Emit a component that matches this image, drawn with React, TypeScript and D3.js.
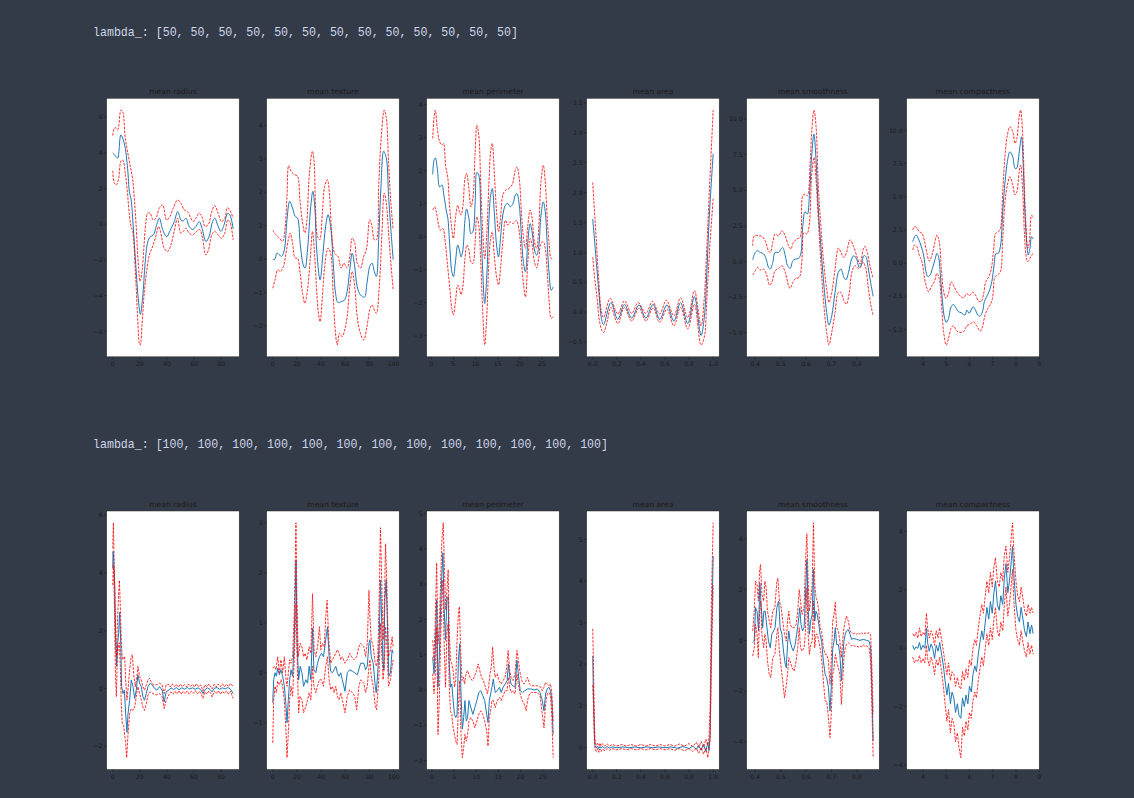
import React from "react";
import * as d3 from "d3";

type P = [number, number];

// ---------- header labels ----------
const header50 = "lambda_: [50, 50, 50, 50, 50, 50, 50, 50, 50, 50, 50, 50, 50]";
const header100 = "lambda_: [100, 100, 100, 100, 100, 100, 100, 100, 100, 100, 100, 100, 100]";
const featureTitles = ["mean radius", "mean texture", "mean perimeter", "mean area", "mean smoothness", "mean compactness"];

// ---------- tick values ----------
const xTicksRadius = [0, 20, 40, 60, 80];
const xTicksTexture = [0, 20, 40, 60, 80, 100];
const xTicksPerimeter = [0, 5, 10, 15, 20, 25];
const xTicksArea = [0, 0.2, 0.4, 0.6, 0.8, 1.0];
const xTicksSmooth = [0.4, 0.5, 0.6, 0.7, 0.8];
const xTicksCompact = [4, 5, 6, 7, 8, 9];

// ================= lambda 50 =================
const radius50Blue: P[] = [[0,3.98],[2.5,3.8],[3.7,3.7],[6,5.0],[8.6,4.5],[11,3.1],[12.3,1.8],[13.5,1.4],[15,0],[17,-2.3],[19,-4.3],[20.4,-5.05],[22,-4.15],[24,-2.1],[25.8,-1.0],[27.7,-0.7],[30,-0.6],[32,-0.13],[34.4,0.34],[36.8,-0.3],[39.8,-0.7],[42,-0.4],[45.4,0.15],[47.9,0.71],[50.3,0.24],[52,0.19],[54,0.34],[56.4,-0.13],[58.9,-0.3],[61.3,-0.13],[63.8,0.15],[65.8,-0.22],[68.7,-0.97],[71,-0.7],[73.6,0.15],[75.3,0.34],[77.3,-0.04],[79.8,-0.4],[82.2,0],[84.7,0.6],[86.4,0.52],[88.8,-0.26]];
const radius50Upper: P[] = [[0,4.97],[1.2,5.38],[2.5,5.4],[3.7,5.3],[6.1,6.4],[7.4,6.3],[9.3,4.8],[12.3,3.5],[14.7,2.5],[15.9,1.46],[17.2,0],[19.1,-2.5],[20.1,-3.2],[21.6,-2.65],[22.8,-1.5],[24.5,0.15],[25.7,0.62],[27.5,0.62],[29.9,0.24],[31.9,0.34],[34.3,0.9],[36.8,1.08],[39.7,0.24],[42.2,0.43],[44.6,0.9],[47.8,1.36],[50.2,1.18],[52.7,0.8],[55.1,0.71],[57.6,0.34],[59.3,0.15],[61.3,0.34],[63.7,0.62],[65.7,0.43],[68.1,-0.13],[70.6,0],[73,0.71],[75.2,1.05],[77.7,0.62],[80.1,0.15],[82.6,0.34],[84.6,0.93],[86.3,0.8],[88.8,0.34]];
const radius50Lower: P[] = [[0,3.0],[1.2,2.3],[2.5,2.2],[4.2,2.5],[6.1,3.55],[7.4,3.6],[9.3,2.86],[11,1.64],[12.3,0.52],[13.5,-0.13],[14.7,-0.4],[16.7,-2.65],[18.4,-5.27],[19.6,-6.67],[20.3,-6.77],[21.6,-5.64],[23.3,-3.78],[25,-2.65],[27,-1.72],[28.9,-1.35],[31.4,-0.78],[33.8,-0.13],[35.5,-0.5],[38,-1.35],[40.4,-1.53],[42.9,-1.16],[45.3,-0.4],[47.8,0.34],[50.2,-0.5],[52,-0.4],[53.9,-0.22],[56.4,-0.5],[58.8,-0.6],[61.8,-0.4],[64.2,-0.3],[66.2,-0.78],[68.6,-1.72],[70.6,-1.44],[73,-0.6],[75.2,-0.4],[77.7,-0.6],[80.1,-0.78],[82.6,-0.5],[84.8,0.24],[86.3,0.15],[88.8,-0.88]];

const texture50Blue: P[] = [[0,0],[1.4,-0.02],[3.6,0.18],[5.5,0.13],[7.4,0.08],[9.6,0.28],[11.8,1.18],[14,1.73],[16.4,1.53],[18.6,1.28],[20.5,1.23],[22.7,0.48],[25.2,-0.17],[26.8,-0.27],[28.8,0.28],[31.5,1.58],[33.2,2.03],[34.8,1.58],[36.4,0.28],[39.2,-0.62],[41.6,0.18],[43.8,0.98],[45.8,1.33],[47.9,0.98],[50.1,-0.12],[52,-1.02],[54,-1.3],[56.7,-1.27],[59.5,-1.22],[61.6,-0.97],[63.6,-0.37],[65.8,0.18],[67.7,-0.17],[69.9,-0.82],[72.6,-1.07],[75.9,-1.14],[78,-0.72],[80.3,-0.22],[82.2,-0.12],[84.1,-0.37],[85.8,-0.52],[87.7,0.58],[89.6,2.18],[91.8,3.23],[94,3.03],[95.9,1.88],[97.8,0.88],[99.7,-0.02]];
const texture50Upper: P[] = [[0,0.86],[2.7,0.73],[5.5,0.63],[8.2,0.53],[10.1,0.88],[11.8,1.88],[13.2,2.8],[15.1,2.63],[17.8,2.53],[20.5,2.48],[22.5,1.78],[24.7,1.08],[26.6,0.78],[28.2,1.13],[30.4,2.58],[32.9,3.23],[34.2,2.93],[35.6,1.38],[37,0.68],[38.9,0.58],[41.1,1.38],[43,2.18],[45.2,2.38],[47.1,1.88],[48.8,0.78],[51.2,0.18],[54,0.08],[56.7,-0.27],[58.9,-0.12],[61.6,-0.27],[63.8,0.08],[65.8,0.63],[67.9,0.48],[69.9,-0.12],[72.6,-0.27],[75.3,0.08],[77.5,0.28],[80.3,1.18],[82.2,0.98],[84.1,0.58],[85.8,0.58],[87.7,2.18],[90,3.73],[92.3,4.46],[94,4.23],[95.9,2.88],[97.8,1.68],[99.7,0.88]];
const texture50Lower: P[] = [[0,-0.87],[1.9,-0.62],[4.1,-0.32],[6.3,-0.37],[8.8,-0.22],[11,0.18],[12.9,0.58],[14.5,0.78],[16.4,0.48],[18.6,0.03],[20.5,0.03],[22.7,-0.42],[24.7,-1.02],[26.6,-1.32],[28.8,-0.92],[31,-0.02],[32.9,0.83],[34.2,0.38],[36.2,-0.82],[37.8,-1.62],[39.2,-1.87],[41.1,-1.12],[43,-0.22],[45.8,0.33],[47.9,0.18],[49.9,-0.92],[51.5,-2.02],[53.4,-2.57],[55.3,-2.22],[57.5,-2.32],[59.5,-2.12],[61.6,-1.72],[63.8,-0.82],[65.8,-0.37],[67.9,-0.82],[69.9,-1.72],[72.6,-2.22],[75.3,-2.42],[78,-2.02],[80.3,-1.52],[82.2,-1.37],[84.1,-1.52],[85.8,-1.62],[88.2,-0.82],[90.4,0.78],[92.3,1.98],[94,1.68],[95.9,0.78],[97.8,-0.12],[99.7,-0.92]];

const perimeter50Blue: P[] = [[0.32,1.88],[0.61,2.31],[0.91,2.38],[1.36,2.06],[1.88,1.5],[2.4,1.56],[2.84,1.25],[3.36,0.8],[3.74,0.55],[4.11,-0.16],[4.63,-1.07],[5,-1.22],[5.45,-0.77],[5.97,-0.26],[6.34,-0.41],[6.71,-0.62],[7.08,-0.46],[7.6,0.49],[7.97,0.83],[8.49,0.55],[8.94,0.09],[9.39,0.14],[9.91,1.05],[10.28,1.94],[10.72,1.86],[11.17,0.55],[11.62,-1.07],[12.06,-2.03],[12.51,-1.27],[13.03,0.55],[13.4,1.25],[13.77,1.45],[14.22,0.75],[14.74,-0.26],[15.19,-0.62],[15.63,-0.06],[16.15,0.65],[16.75,0.95],[17.27,1.0],[17.86,0.9],[18.46,1.0],[18.98,1.25],[19.35,1.3],[19.87,0.95],[20.39,-0.06],[20.84,-0.82],[21.28,-1.07],[21.8,-0.16],[22.32,0.39],[22.77,0.14],[23.29,-0.41],[23.81,-0.57],[24.26,-0.31],[24.78,0.65],[25.3,1.05],[25.74,0.75],[26.19,-0.26],[26.64,-1.17],[27.08,-1.63],[27.53,-1.53]];
const perimeter50Upper: P[] = [[0.32,2.97],[0.61,3.58],[0.91,3.83],[1.36,3.27],[1.88,2.87],[2.4,2.77],[2.77,2.82],[3.22,2.16],[3.74,1.76],[4.11,0.95],[4.63,0.24],[5,-0.06],[5.45,0.55],[5.97,0.95],[6.34,0.75],[6.71,0.65],[7.16,0.95],[7.6,1.76],[7.97,1.91],[8.49,1.45],[8.94,0.9],[9.39,1.15],[9.91,2.57],[10.28,3.37],[10.72,3.07],[11.17,1.56],[11.62,0.14],[12.06,-0.67],[12.51,0.04],[13.03,1.66],[13.4,2.57],[13.77,2.82],[14.22,1.96],[14.74,0.75],[15.19,0.14],[15.63,0.55],[16.15,1.25],[16.75,1.4],[17.49,1.45],[18.23,1.56],[18.98,2.01],[19.35,2.11],[19.87,1.76],[20.39,0.65],[20.84,-0.06],[21.28,-0.36],[21.8,0.34],[22.32,0.8],[22.77,0.55],[23.29,-0.16],[23.81,-0.36],[24.26,0.24],[24.78,1.66],[25.3,2.16],[25.74,1.66],[26.19,0.55],[26.64,-0.26],[27.08,-0.67],[27.53,-0.67]];
const perimeter50Lower: P[] = [[0.32,0.8],[0.76,0.9],[1.13,0.75],[1.65,0.34],[2.1,0.19],[2.62,0.24],[3.14,-0.16],[3.59,-0.77],[4.11,-1.47],[4.63,-2.18],[5,-2.38],[5.45,-1.98],[5.97,-1.47],[6.34,-1.58],[6.71,-1.76],[7.16,-1.47],[7.6,-0.67],[8.05,-0.26],[8.49,-0.41],[8.94,-0.77],[9.39,-0.82],[9.91,-0.16],[10.28,0.6],[10.72,0.34],[11.17,-0.77],[11.62,-2.28],[12.06,-3.29],[12.51,-2.48],[13.03,-0.67],[13.4,-0.06],[13.77,0.14],[14.22,-0.57],[14.74,-1.22],[15.19,-1.47],[15.63,-0.97],[16.15,-0.16],[16.75,0.49],[17.27,0.34],[17.86,0.44],[18.46,0.39],[19.2,0.49],[19.87,0.14],[20.39,-0.77],[20.84,-1.47],[21.28,-1.83],[21.8,-0.77],[22.32,-0.06],[22.77,-0.26],[23.29,-0.77],[23.81,-0.95],[24.26,-0.67],[24.78,-0.21],[25.3,-0.16],[25.74,-0.36],[26.19,-1.07],[26.64,-1.98],[27.08,-2.48],[27.53,-2.43]];

const area50Blue: P[] = [[0,1.56],[0.016,1.18],[0.036,0.69],[0.055,0.24],[0.071,-0.09],[0.09,-0.21],[0.151,0.16],[0.208,-0.12],[0.263,0.13],[0.323,-0.1],[0.384,0.12],[0.441,-0.1],[0.501,0.13],[0.556,-0.12],[0.616,0.12],[0.674,-0.15],[0.729,0.16],[0.789,-0.19],[0.844,0.26],[0.899,-0.39],[0.926,-0.09],[0.948,0.69],[0.967,1.57],[1.0,2.65]];
const area50Upper: P[] = [[0,2.17],[0.008,1.9],[0.027,1.29],[0.049,0.57],[0.071,0.02],[0.09,-0.09],[0.145,0.23],[0.208,-0.03],[0.263,0.19],[0.323,-0.02],[0.378,0.16],[0.441,-0.02],[0.496,0.18],[0.556,-0.03],[0.611,0.2],[0.674,-0.06],[0.729,0.24],[0.789,-0.09],[0.844,0.36],[0.899,-0.23],[0.926,0.24],[0.948,1.13],[0.973,2.23],[1.0,3.38]];
const area50Lower: P[] = [[0,0.92],[0.016,0.57],[0.036,0.24],[0.055,-0.14],[0.077,-0.31],[0.09,-0.34],[0.118,-0.17],[0.151,0.08],[0.208,-0.19],[0.263,0.08],[0.323,-0.15],[0.384,0.07],[0.441,-0.15],[0.501,0.07],[0.556,-0.17],[0.616,0.05],[0.674,-0.23],[0.729,0.08],[0.789,-0.28],[0.844,0.13],[0.899,-0.55],[0.926,-0.42],[0.948,0.24],[0.973,1.13],[1.0,1.9]];

const smooth50Blue: P[] = [[0.39,0.12],[0.4,0.63],[0.409,0.75],[0.42,0.63],[0.433,0.52],[0.443,0.16],[0.452,-0.42],[0.459,-0.54],[0.469,-0.07],[0.478,0.63],[0.492,0.63],[0.501,0.87],[0.508,0.98],[0.518,0.4],[0.527,-0.3],[0.537,-0.49],[0.548,0.05],[0.557,0.16],[0.57,0.21],[0.579,0.52],[0.587,2.5],[0.596,3.49],[0.605,3.33],[0.613,4.62],[0.622,7.43],[0.631,8.95],[0.639,7.2],[0.648,3.68],[0.658,1.1],[0.668,-1.24],[0.681,-3.59],[0.69,-4.48],[0.701,-3.82],[0.714,-2.18],[0.727,-0.77],[0.737,-0.54],[0.749,-1.12],[0.757,-1.29],[0.767,-0.77],[0.779,0.16],[0.788,0.4],[0.799,0.16],[0.809,-0.42],[0.818,-0.19],[0.827,0.4],[0.835,0.35],[0.844,-0.42],[0.854,-1.48],[0.864,-2.46]];
const smooth50Upper: P[] = [[0.39,1.1],[0.396,1.8],[0.413,1.8],[0.426,1.76],[0.439,1.45],[0.452,0.75],[0.459,0.63],[0.469,1.34],[0.478,1.92],[0.492,1.8],[0.505,2.16],[0.518,1.8],[0.531,1.1],[0.54,0.87],[0.55,1.34],[0.563,1.57],[0.576,1.69],[0.587,4.62],[0.596,4.73],[0.605,4.62],[0.616,6.96],[0.622,9.07],[0.631,10.64],[0.639,9.54],[0.648,5.32],[0.658,2.51],[0.668,0.16],[0.681,-1.95],[0.69,-2.88],[0.701,-2.18],[0.714,-0.54],[0.727,0.94],[0.737,0.63],[0.749,0.28],[0.759,0.63],[0.773,1.52],[0.786,1.1],[0.799,0.4],[0.812,-0.19],[0.825,0.87],[0.831,1.05],[0.841,0.63],[0.851,-0.3],[0.864,-1.2]];
const smooth50Lower: P[] = [[0.39,-0.96],[0.4,-0.66],[0.409,-0.42],[0.422,-0.61],[0.433,-0.54],[0.446,-1.01],[0.456,-1.66],[0.465,-1.48],[0.478,-0.66],[0.492,-0.49],[0.505,-0.3],[0.518,-0.77],[0.531,-1.71],[0.537,-1.9],[0.548,-1.48],[0.558,-1.2],[0.573,-1.12],[0.583,-0.07],[0.592,2.04],[0.603,1.92],[0.612,2.51],[0.622,6.02],[0.631,7.31],[0.639,5.79],[0.648,2.98],[0.658,-0.07],[0.668,-2.65],[0.681,-4.99],[0.69,-5.88],[0.701,-4.99],[0.714,-3.59],[0.727,-2.18],[0.737,-2.18],[0.749,-2.77],[0.759,-3.0],[0.77,-2.18],[0.78,-0.77],[0.792,-0.3],[0.805,-0.49],[0.814,-0.42],[0.825,-0.07],[0.835,-0.49],[0.844,-1.71],[0.854,-3.0],[0.864,-3.82]];

const compact50Blue: P[] = [[3.56,1.61],[3.64,1.98],[3.71,2.11],[3.81,1.81],[3.93,1.23],[4.03,0.6],[4.13,-0.65],[4.21,-1.03],[4.31,-0.9],[4.41,-0.4],[4.53,0.35],[4.6,0.73],[4.67,0.48],[4.76,-1.16],[4.84,-2.91],[4.93,-4.17],[5.0,-4.47],[5.1,-4.17],[5.21,-3.29],[5.31,-3.12],[5.41,-3.37],[5.53,-3.67],[5.64,-3.74],[5.74,-3.87],[5.81,-3.92],[5.89,-3.54],[5.99,-3.79],[6.07,-3.54],[6.16,-3.29],[6.24,-3.47],[6.36,-3.92],[6.46,-3.99],[6.56,-3.67],[6.64,-2.91],[6.74,-2.54],[6.84,-2.16],[6.96,-1.41],[7.06,-0.15],[7.14,0.73],[7.24,0.73],[7.34,1.36],[7.43,3.87],[7.53,6.13],[7.63,7.64],[7.74,8.39],[7.86,8.02],[7.96,7.14],[8.03,7.14],[8.1,7.76],[8.17,8.77],[8.24,9.52],[8.31,7.39],[8.39,3.62],[8.46,1.61],[8.53,0.6],[8.6,1.11],[8.67,1.98],[8.74,1.81]];
const compact50Upper: P[] = [[3.56,2.49],[3.64,2.74],[3.74,2.66],[3.84,2.36],[3.96,2.24],[4.07,1.61],[4.17,0.73],[4.27,0.15],[4.39,0.6],[4.5,1.48],[4.6,2.11],[4.7,1.61],[4.79,-0.4],[4.89,-2.16],[4.99,-2.66],[5.1,-2.29],[5.21,-1.41],[5.31,-1.66],[5.41,-2.04],[5.56,-2.41],[5.74,-2.61],[5.89,-2.29],[5.99,-2.46],[6.13,-2.21],[6.24,-2.36],[6.39,-2.86],[6.5,-2.91],[6.6,-2.41],[6.7,-1.41],[6.81,-1.11],[6.93,-0.53],[7.03,0.85],[7.13,2.24],[7.24,2.36],[7.33,2.61],[7.43,5.38],[7.53,8.14],[7.63,9.65],[7.74,10.28],[7.86,9.9],[7.96,9.02],[8.04,9.4],[8.13,10.9],[8.2,11.53],[8.29,9.65],[8.36,5.88],[8.43,2.86],[8.5,1.11],[8.57,1.48],[8.67,3.62],[8.74,3.37]];
const compact50Lower: P[] = [[3.56,0.98],[3.64,1.36],[3.74,1.23],[3.84,0.6],[3.96,0.1],[4.07,-1.16],[4.17,-1.91],[4.24,-2.16],[4.36,-1.78],[4.49,-1.41],[4.6,-0.78],[4.7,-1.16],[4.79,-2.91],[4.89,-5.18],[5.0,-6.18],[5.1,-5.68],[5.21,-4.92],[5.31,-4.72],[5.46,-5.13],[5.6,-5.23],[5.74,-5.18],[5.89,-4.72],[6.03,-4.62],[6.17,-4.42],[6.31,-4.72],[6.46,-5.13],[6.56,-4.8],[6.67,-3.92],[6.79,-3.42],[6.89,-3.17],[6.99,-2.66],[7.1,-1.03],[7.21,-0.9],[7.33,-0.65],[7.43,1.86],[7.53,4.62],[7.63,5.88],[7.74,6.51],[7.86,5.88],[7.96,5.13],[8.04,5.38],[8.13,6.76],[8.2,7.39],[8.29,5.38],[8.36,2.36],[8.43,0.6],[8.5,0.1],[8.6,0.35],[8.67,0.6],[8.74,0.73]];

// ================= lambda 100 =================
const radius100Blue: P[] = [[0,4.15],[0.25,4.74],[0.7,4.5],[1.5,3.57],[2.2,1.7],[2.9,0.76],[3.7,1.58],[4.4,1.93],[5.1,2.63],[5.9,1.58],[6.6,0.06],[7.6,-0.18],[8.6,-0.06],[9.6,-0.88],[10.5,-1.52],[11.3,-0.88],[12.5,-0.41],[13.7,0.29],[15,0.06],[16.2,-0.35],[17.4,-0.06],[18.6,0.47],[19.9,0.18],[21.1,0.06],[22.3,-0.29],[23.5,-0.41],[24.8,-0.18],[26,0.06],[27.7,0.18],[29.2,0.12],[30.9,0],[32.6,-0.06],[34.6,0.06],[36.5,-0.06],[38,-0.47],[39.5,-0.12],[41.4,-0.06],[43.1,0.02],[45,-0.04],[47,0.03],[49,-0.05],[51,0.02],[53,-0.03],[55,0.03],[57,-0.02],[59,0.02],[61,-0.03],[63,0.02],[65,-0.04],[66.7,-0.18],[68,-0.05],[70,0.02],[72,-0.04],[73.5,-0.12],[75,0.0],[77,0.03],[79,-0.03],[81,0.02],[83,-0.02],[85,0.03],[87,-0.03],[89,-0.18]];
const radius100Upper: P[] = [[0,4.85],[0.5,5.73],[1.2,3.92],[2,1.93],[2.7,1.11],[3.4,2.16],[4.2,3.1],[4.9,3.74],[5.6,2.87],[6.4,1.58],[7.1,0.99],[8.1,1.05],[8.8,1.11],[9.6,0.29],[10.5,-0.41],[11.5,0.06],[12.5,0.64],[13.7,1.11],[14.5,1.17],[15.4,0.53],[16.7,0.06],[17.9,0.41],[18.6,0.76],[19.9,0.41],[21.1,0.29],[22.3,0.06],[23.5,-0.06],[24.8,0.12],[26,0.29],[27.2,0.35],[28.4,0.23],[30.1,0.12],[32.1,0.12],[34.6,0.18],[36.5,0.12],[38,-0.18],[39.5,0.12],[41,0.15],[42.5,0.05],[44,0.16],[45.5,0.06],[47,0.14],[48.5,0.04],[50,0.15],[51.5,0.06],[53,0.13],[54.5,0.05],[56,0.15],[57.5,0.06],[59,0.14],[60.5,0.05],[62,0.16],[63.5,0.06],[65,0.12],[66.7,-0.1],[68,0.12],[69.5,0.05],[71,0.15],[72.5,0.04],[73.5,-0.02],[75,0.14],[76.5,0.05],[78,0.15],[79.5,0.06],[81,0.16],[82.5,0.05],[84,0.14],[85.5,0.06],[87,0.17],[89,0.06]];
const radius100Lower: P[] = [[0,3.57],[0.5,4.27],[1.2,3.1],[2,0.53],[2.7,-0.29],[3.4,1.11],[4.2,1.46],[4.9,1.58],[5.6,0.76],[6.4,-0.64],[7.1,-1.23],[8.1,-1.29],[8.8,-1.58],[9.6,-1.93],[10.3,-2.4],[11.3,-1.58],[12.5,-0.88],[13.7,-0.7],[15,-0.76],[16.2,-0.64],[17.4,-0.29],[18.6,0.06],[19.9,-0.18],[21.1,-0.41],[22.3,-0.64],[23.5,-0.76],[24.8,-0.53],[26,-0.23],[27.7,-0.12],[29.7,-0.18],[32.1,-0.23],[34.6,-0.18],[36.5,-0.29],[38,-0.7],[39.5,-0.41],[41.4,-0.23],[43,-0.12],[44.5,-0.2],[46,-0.1],[47.5,-0.19],[49,-0.08],[50.5,-0.2],[52,-0.1],[53.5,-0.18],[55,-0.09],[56.5,-0.2],[58,-0.1],[59.5,-0.17],[61,-0.08],[62.5,-0.19],[64,-0.1],[65.5,-0.2],[66.7,-0.35],[68,-0.12],[69.5,-0.2],[71,-0.09],[72.5,-0.18],[73.5,-0.3],[75,-0.1],[76.5,-0.18],[78,-0.08],[79.5,-0.2],[81,-0.1],[82.5,-0.18],[84,-0.09],[85.5,-0.2],[87,-0.1],[89,-0.35]];

const texture100Blue: P[] = [[0,-0.6],[0.8,-0.14],[1.9,0],[3,-0.07],[4.1,0.09],[5.5,-0.04],[6.8,0.06],[8.2,-0.07],[9.6,-0.27],[11,-0.67],[11.8,-1.0],[12.9,-0.54],[14,-0.14],[15.1,0.06],[16.4,-0.07],[17.8,0.66],[19.2,2.25],[20.3,0.46],[21.4,-0.14],[22.7,0.13],[24.1,0],[25.5,-0.27],[27.4,-0.14],[28.8,-0.21],[30.1,0.13],[31.5,-0.14],[32.9,0.89],[34,0.06],[35.6,0],[37,0.19],[38.6,0.32],[40.3,0.39],[41.9,0.32],[43.8,0.66],[45.2,0.92],[46.6,0.32],[47.9,0.03],[49.3,0],[50.7,0.06],[52.1,0.13],[53.4,0],[54.8,-0.07],[56.2,0],[57.5,-0.14],[59.7,-0.37],[61.6,0],[63.6,0.06],[65.8,0.03],[67.7,0],[69.9,-0.04],[72.6,0.19],[75.3,0.19],[76.7,0.06],[78.1,0.13],[79.5,0.59],[80.3,0.66],[81.4,0.32],[83,0.19],[84.7,-0.27],[85.5,-0.4],[86.8,0],[87.9,0.59],[89,1.85],[89.9,1.12],[91,0.26],[91.8,0.06],[92.6,1.45],[93.7,1.85],[94.8,0.92],[95.9,-0.07],[97.3,0],[98.6,0.46],[99.5,0.39]];
const texture100Upper: P[] = [[0,0.09],[1.4,0.13],[2.7,0.06],[4.1,0.32],[5.5,0],[6.8,0.26],[8.2,0],[9.6,0.32],[11,-0.14],[11.8,-0.27],[12.9,0],[14,0.26],[15.1,0.19],[16.4,0.32],[17.8,1.19],[19.2,3.0],[20,1.45],[21.1,0.32],[22.7,0.59],[24.1,0.52],[25.5,0.32],[26.8,0.39],[28.2,0.26],[30.1,0.52],[31.5,0.39],[32.9,1.58],[34.2,0.46],[35.6,0.32],[37,0.52],[38.6,0.92],[39.7,0.46],[41.1,0.59],[42.5,0.52],[43.8,1.12],[44.9,1.45],[46.3,0.66],[47.9,0.19],[49.3,0.26],[50.7,0.32],[52.1,0.39],[53.4,0.46],[54.8,0.39],[56.2,0.26],[57.5,0.32],[59.7,0.19],[61.6,0.26],[63.6,0.39],[65.2,0.32],[67.1,0.26],[69.3,0.32],[71.2,0.52],[72.6,0.59],[75.3,0.52],[76.7,0.32],[78.1,0.59],[79.5,1.65],[80.3,1.12],[81.4,0.66],[83,0.52],[84.7,0.19],[85.8,0.13],[86.8,0.32],[87.9,1.45],[89,2.9],[90.1,1.78],[91.2,0.66],[92.1,1.19],[93.2,2.58],[94.5,1.58],[95.6,0.32],[97.3,0.46],[98.6,0.72],[99.5,0.52]];
const texture100Lower: P[] = [[0,-1.4],[0.8,-0.54],[1.9,-0.27],[3,-0.4],[4.1,-0.17],[5.5,-0.24],[6.8,-0.14],[8.2,-0.27],[9.6,-0.54],[11,-1.2],[11.8,-1.7],[12.9,-1.2],[14,-0.54],[15.1,-0.27],[16.4,-0.47],[17.8,0.26],[19.2,1.38],[20.3,0.13],[21.4,-0.8],[22.5,-0.47],[24.1,-0.54],[25.5,-0.8],[27.4,-0.67],[28.8,-0.54],[30.1,-0.4],[31.5,-0.54],[32.9,0.13],[34,-0.27],[35.6,-0.4],[37,-0.27],[38.6,-0.14],[40.3,-0.14],[41.9,-0.27],[43.8,0.13],[45.2,0.32],[46.6,-0.14],[47.9,-0.34],[49.3,-0.27],[50.7,-0.4],[52.1,-0.27],[53.4,-0.47],[54.8,-0.54],[56.2,-0.4],[57.5,-0.54],[59.7,-0.8],[61.6,-0.47],[63.6,-0.34],[65.8,-0.4],[67.7,-0.47],[69.3,-0.74],[71.2,-0.27],[72.6,-0.14],[75.3,-0.21],[76.7,-0.4],[78.1,-0.27],[79.5,0.13],[80.3,0.26],[81.4,-0.07],[83,-0.27],[84.7,-0.67],[85.8,-0.74],[86.8,-0.4],[87.9,0],[89,0.99],[90.1,0.39],[91.2,-0.14],[92.1,0.13],[93.2,0.92],[94.5,0.46],[95.6,-0.27],[97.3,-0.14],[98.6,0.13],[99.5,0.26]];

const perimeter100Blue: P[] = [[0.17,0.93],[0.46,0.46],[0.76,1.22],[1.06,2.55],[1.36,0.08],[1.65,0.93],[1.95,2.27],[2.25,3.31],[2.47,3.89],[2.77,2.27],[3.07,1.41],[3.36,2.55],[3.66,2.65],[3.88,0.84],[4.18,0.08],[4.48,0.17],[4.78,-0.3],[5.07,-0.69],[5.37,-0.78],[5.67,-0.69],[5.97,0.84],[6.26,1.31],[6.56,-0.11],[6.86,-1.11],[7.16,-0.78],[7.45,-0.3],[7.75,-0.88],[8.05,-0.78],[8.35,-0.3],[8.79,-0.5],[9.24,-0.69],[9.68,-0.5],[10.13,-0.3],[10.58,-0.07],[11.02,-0.02],[11.47,-0.16],[11.91,-0.3],[12.36,-0.69],[12.66,-0.92],[12.96,-0.3],[13.25,-0.11],[13.55,0.08],[13.85,0.31],[14.29,-0.07],[14.74,-0.02],[15.26,0.08],[15.63,-0.07],[16.08,0.08],[16.52,0.17],[16.97,0.27],[17.27,0.74],[17.57,0.36],[17.86,0.17],[18.31,0.12],[18.75,0.08],[19.2,0.84],[19.5,0.46],[19.94,-0.02],[20.46,-0.07],[20.99,-0.02],[21.58,0.03],[22.32,0.03],[23.07,0.0],[23.81,0.03],[24.41,-0.07],[24.93,-0.3],[25.3,-0.59],[25.67,-0.11],[26.04,0.03],[26.41,0.08],[26.78,-0.02],[27.08,-0.3],[27.38,-1.26]];
const perimeter100Upper: P[] = [[0.17,1.41],[0.46,0.84],[0.76,2.08],[1.06,3.6],[1.36,1.31],[1.65,1.79],[1.95,3.03],[2.25,4.27],[2.55,4.74],[2.84,3.31],[3.14,2.27],[3.44,2.93],[3.66,3.41],[3.88,1.79],[4.18,0.84],[4.48,0.74],[4.78,0.55],[5.07,0.08],[5.37,0.27],[5.67,1.41],[5.97,2.17],[6.19,2.36],[6.49,1.12],[6.78,0.27],[7.08,0.36],[7.38,0.17],[7.68,0.46],[8.05,0.55],[8.57,0.36],[9.09,0.27],[9.54,0.36],[10.06,0.55],[10.43,0.74],[10.8,0.55],[11.17,0.36],[11.62,0.27],[12.06,0.08],[12.51,-0.11],[12.81,0.08],[13.1,0.46],[13.4,0.65],[13.7,1.22],[14,0.65],[14.29,0.36],[14.74,0.46],[15.11,0.27],[15.63,0.17],[16.08,0.27],[16.52,0.36],[16.9,0.65],[17.19,1.12],[17.57,0.55],[17.86,0.36],[18.31,0.27],[18.75,0.46],[19.2,1.12],[19.5,0.84],[19.94,0.46],[20.39,0.22],[20.84,0.17],[21.28,0.27],[21.58,0.36],[22.03,0.17],[22.47,0.12],[23.07,0.12],[23.81,0.12],[24.55,0.08],[24.93,-0.02],[25.3,0.08],[25.67,0.22],[26.04,0.17],[26.41,0.12],[26.78,0.17],[27.08,-0.11],[27.38,-0.88]];
const perimeter100Lower: P[] = [[0.17,0.46],[0.46,-0.11],[0.76,0.46],[1.06,1.79],[1.36,-1.26],[1.65,-0.3],[1.95,1.41],[2.25,2.55],[2.47,3.12],[2.77,1.22],[3.07,0.08],[3.36,1.6],[3.66,1.89],[3.88,0.17],[4.18,-0.59],[4.48,-0.69],[4.78,-1.07],[5.07,-1.26],[5.37,-1.45],[5.67,-1.54],[5.97,-0.5],[6.26,0.27],[6.56,-1.26],[6.86,-1.92],[7.16,-1.64],[7.45,-1.26],[7.75,-1.45],[8.05,-1.26],[8.35,-0.88],[8.79,-0.78],[9.24,-0.88],[9.68,-1.07],[10.13,-0.88],[10.58,-0.69],[11.02,-0.59],[11.47,-0.69],[11.91,-0.88],[12.36,-1.16],[12.66,-1.59],[12.96,-0.78],[13.25,-0.59],[13.55,-0.3],[13.85,-0.3],[14.29,-0.5],[14.74,-0.3],[15.26,-0.21],[15.63,-0.3],[16.08,-0.16],[16.52,-0.02],[16.97,-0.02],[17.27,0.36],[17.57,0.08],[17.86,-0.07],[18.31,-0.02],[18.75,-0.11],[19.2,0.46],[19.5,0.17],[19.94,-0.11],[20.39,-0.3],[20.84,-0.4],[21.28,-0.59],[21.58,-0.3],[22.03,-0.11],[22.47,-0.07],[23.07,-0.07],[23.81,-0.07],[24.41,-0.16],[24.93,-0.69],[25.3,-1.07],[25.67,-0.4],[26.04,-0.11],[26.41,-0.07],[26.78,-0.16],[27.08,-0.78],[27.38,-1.92]];

const area100Blue: P[] = [[0,2.2],[0.005,1.4],[0.01,0.8],[0.015,0.25],[0.02,0.04],[0.03,-0.02],[0.04,0.03],[0.05,-0.03],[0.06,0.02],[0.07,-0.02],[0.08,0.02],[0.1,-0.02],[0.12,0.02],[0.14,-0.02],[0.16,0.01],[0.2,-0.01],[0.25,0.01],[0.3,-0.01],[0.35,0.01],[0.4,-0.01],[0.45,0.01],[0.5,-0.01],[0.55,0.01],[0.6,-0.01],[0.65,0.01],[0.7,-0.02],[0.75,0.02],[0.8,-0.03],[0.83,0.03],[0.86,-0.05],[0.88,0.05],[0.9,-0.07],[0.92,0.07],[0.94,-0.1],[0.955,0.12],[0.965,-0.08],[0.975,0.3],[0.985,2.4],[1.0,4.6]];
const area100Upper: P[] = [[0,2.85],[0.005,2.2],[0.01,1.3],[0.015,0.5],[0.02,0.12],[0.03,0.06],[0.04,0.1],[0.05,0.03],[0.06,0.1],[0.07,0.03],[0.08,0.09],[0.1,0.03],[0.12,0.08],[0.14,0.03],[0.16,0.07],[0.2,0.03],[0.24,0.07],[0.28,0.03],[0.32,0.07],[0.36,0.03],[0.4,0.07],[0.44,0.03],[0.48,0.07],[0.52,0.03],[0.56,0.07],[0.6,0.03],[0.64,0.07],[0.68,0.03],[0.72,0.08],[0.76,0.03],[0.8,0.09],[0.83,0.02],[0.86,0.12],[0.88,0.0],[0.9,0.14],[0.92,0.0],[0.94,0.2],[0.955,0.05],[0.965,0.22],[0.975,1.0],[0.985,3.5],[1.0,5.4]];
const area100Lower: P[] = [[0,1.5],[0.005,1.1],[0.01,0.55],[0.015,0.1],[0.02,-0.05],[0.03,-0.1],[0.04,-0.03],[0.05,-0.12],[0.06,-0.04],[0.07,-0.1],[0.08,-0.04],[0.1,-0.08],[0.12,-0.03],[0.14,-0.07],[0.16,-0.03],[0.2,-0.06],[0.24,-0.03],[0.28,-0.06],[0.32,-0.03],[0.36,-0.06],[0.4,-0.03],[0.44,-0.06],[0.48,-0.03],[0.52,-0.06],[0.56,-0.03],[0.6,-0.06],[0.64,-0.03],[0.68,-0.07],[0.72,-0.03],[0.76,-0.08],[0.8,-0.03],[0.83,-0.1],[0.86,-0.02],[0.88,-0.14],[0.9,0.0],[0.92,-0.16],[0.94,-0.02],[0.955,-0.25],[0.965,-0.05],[0.975,0.2],[0.985,2.0],[1.0,3.9]];

const smooth100Blue: P[] = [[0.39,-0.09],[0.396,-0.03],[0.401,1.29],[0.407,1.15],[0.413,0.37],[0.418,2.27],[0.424,1.29],[0.429,0.5],[0.434,1.15],[0.439,1.15],[0.446,0.5],[0.452,-0.03],[0.459,-0.29],[0.465,0.24],[0.472,0.37],[0.478,0.5],[0.485,1.29],[0.492,1.55],[0.498,0.5],[0.505,0.24],[0.511,-0.42],[0.518,-0.94],[0.522,-1.08],[0.527,-0.16],[0.532,0.37],[0.537,-0.03],[0.544,-0.29],[0.55,-0.42],[0.557,-0.16],[0.563,0.24],[0.57,0.76],[0.575,1.29],[0.58,0.63],[0.586,0.37],[0.592,0.5],[0.597,1.55],[0.603,3.19],[0.608,1.29],[0.613,0.24],[0.618,0.76],[0.624,1.02],[0.629,2.8],[0.634,0.76],[0.639,1.15],[0.644,1.02],[0.65,0.63],[0.655,0.24],[0.661,-0.03],[0.668,-0.81],[0.675,-1.34],[0.681,-1.47],[0.688,-1.86],[0.694,-2.78],[0.699,-1.86],[0.705,-0.29],[0.71,-0.03],[0.715,0.5],[0.72,-0.16],[0.727,-0.16],[0.733,-0.55],[0.739,-1.6],[0.744,-0.68],[0.749,-0.03],[0.754,0.24],[0.759,0.37],[0.766,0.43],[0.773,0.24],[0.779,0.04],[0.786,0.08],[0.799,0.04],[0.812,0.0],[0.825,0.04],[0.838,0.0],[0.848,-0.03],[0.854,-0.29],[0.859,-1.86],[0.864,-3.96]];
const smooth100Upper: P[] = [[0.39,0.37],[0.396,1.15],[0.401,2.33],[0.407,2.2],[0.412,1.55],[0.417,2.73],[0.421,2.99],[0.426,1.81],[0.433,1.55],[0.438,2.33],[0.443,2.07],[0.448,1.15],[0.455,0.76],[0.461,0.5],[0.469,1.15],[0.477,1.29],[0.485,2.33],[0.489,2.45],[0.495,1.55],[0.502,1.29],[0.508,0.76],[0.515,0.24],[0.522,-0.03],[0.527,0.76],[0.532,1.15],[0.537,0.63],[0.545,0.5],[0.553,0.5],[0.561,0.63],[0.567,1.15],[0.573,2.0],[0.578,1.55],[0.584,1.02],[0.592,1.29],[0.597,2.86],[0.603,4.2],[0.608,2.33],[0.613,1.15],[0.618,1.55],[0.624,2.2],[0.629,4.63],[0.634,2.2],[0.639,1.68],[0.644,1.55],[0.65,1.15],[0.655,0.5],[0.661,0.37],[0.668,-0.29],[0.675,-0.55],[0.681,-0.55],[0.688,-0.81],[0.694,-1.73],[0.699,-0.81],[0.705,0.76],[0.71,1.02],[0.715,1.5],[0.72,0.5],[0.727,0.37],[0.733,-0.03],[0.739,-0.68],[0.744,-0.03],[0.749,0.5],[0.754,0.76],[0.759,0.96],[0.766,0.76],[0.773,0.37],[0.779,0.3],[0.786,0.26],[0.793,0.3],[0.799,0.24],[0.806,0.3],[0.812,0.24],[0.819,0.3],[0.825,0.24],[0.832,0.3],[0.838,0.26],[0.848,0.3],[0.854,0.24],[0.859,-1.08],[0.864,-2.91]];
const smooth100Lower: P[] = [[0.39,-0.62],[0.396,-0.29],[0.401,0.63],[0.407,0.24],[0.412,-0.68],[0.417,1.15],[0.421,1.55],[0.426,0.24],[0.433,-0.29],[0.438,0.24],[0.443,-0.03],[0.448,-0.81],[0.455,-1.34],[0.461,-1.47],[0.469,-0.68],[0.477,-0.55],[0.485,0.24],[0.489,0.5],[0.495,-0.42],[0.502,-1.08],[0.508,-1.6],[0.515,-2.26],[0.52,-1.93],[0.527,-1.34],[0.532,-0.68],[0.537,-0.81],[0.545,-1.08],[0.553,-1.21],[0.561,-0.81],[0.567,-0.29],[0.573,0.5],[0.578,-0.29],[0.584,-0.42],[0.592,-0.29],[0.597,0.24],[0.603,2.07],[0.608,0.24],[0.613,-0.55],[0.618,-0.16],[0.624,-0.03],[0.629,1.55],[0.634,-0.29],[0.639,0.24],[0.644,0.24],[0.65,-0.03],[0.655,-0.29],[0.661,-0.68],[0.668,-1.6],[0.675,-2.39],[0.681,-2.39],[0.688,-3.04],[0.694,-3.83],[0.699,-2.91],[0.705,-1.34],[0.71,-1.08],[0.715,-0.55],[0.72,-0.81],[0.727,-1.08],[0.733,-1.34],[0.739,-2.52],[0.744,-1.6],[0.749,-0.68],[0.754,-0.29],[0.759,-0.16],[0.766,-0.09],[0.773,-0.16],[0.779,-0.22],[0.786,-0.18],[0.793,-0.24],[0.799,-0.22],[0.806,-0.26],[0.812,-0.22],[0.819,-0.26],[0.825,-0.18],[0.832,-0.24],[0.838,-0.22],[0.848,-0.29],[0.854,-0.81],[0.859,-2.65],[0.864,-4.62]];

const compact100Blue: P[] = [[3.56,0.1],[3.63,-0.05],[3.7,0.05],[3.78,0.0],[3.85,0.2],[3.92,-0.05],[4.0,0.1],[4.08,0.0],[4.15,0.7],[4.2,0.2],[4.27,-0.1],[4.35,0.15],[4.42,0.0],[4.5,-0.35],[4.57,0.1],[4.65,-0.1],[4.72,0.2],[4.8,-0.2],[4.88,-0.6],[4.95,-1.1],[5.03,-1.6],[5.1,-1.2],[5.18,-1.9],[5.25,-1.5],[5.33,-1.7],[5.4,-2.2],[5.48,-1.9],[5.55,-2.3],[5.63,-2.4],[5.7,-1.7],[5.78,-2.0],[5.85,-1.6],[5.93,-1.9],[6.0,-1.3],[6.08,-1.5],[6.15,-0.9],[6.23,-0.6],[6.3,-0.8],[6.38,-0.2],[6.45,0.2],[6.53,0.6],[6.6,0.3],[6.68,0.9],[6.75,1.4],[6.83,1.0],[6.9,1.6],[6.98,1.2],[7.05,1.9],[7.12,2.3],[7.2,1.5],[7.28,1.3],[7.35,1.8],[7.43,1.5],[7.5,2.4],[7.57,2.9],[7.65,1.9],[7.72,2.3],[7.8,3.0],[7.85,3.5],[7.92,2.4],[8.0,1.5],[8.07,1.1],[8.15,0.9],[8.22,1.4],[8.3,1.0],[8.37,0.6],[8.45,0.4],[8.52,0.9],[8.6,0.5],[8.67,0.8],[8.74,0.5]];
const compact100Upper: P[] = [[3.56,0.5],[3.63,0.4],[3.7,0.55],[3.78,0.35],[3.85,0.7],[3.92,0.4],[4.0,0.55],[4.08,0.45],[4.15,1.2],[4.2,0.7],[4.27,0.35],[4.35,0.6],[4.42,0.45],[4.5,0.1],[4.57,0.6],[4.65,0.35],[4.72,0.7],[4.8,0.3],[4.88,-0.1],[4.95,-0.5],[5.03,-0.9],[5.1,-0.5],[5.18,-1.1],[5.25,-0.8],[5.33,-0.9],[5.4,-1.3],[5.48,-1.0],[5.55,-1.3],[5.63,-1.4],[5.7,-0.8],[5.78,-1.1],[5.85,-0.7],[5.93,-1.0],[6.0,-0.4],[6.08,-0.6],[6.15,0.0],[6.23,0.3],[6.3,0.1],[6.38,0.7],[6.45,1.1],[6.53,1.5],[6.6,1.2],[6.68,1.8],[6.75,2.3],[6.83,1.9],[6.9,2.6],[6.98,2.1],[7.05,2.8],[7.12,3.1],[7.2,2.3],[7.28,2.1],[7.35,2.6],[7.43,2.3],[7.5,3.2],[7.57,3.5],[7.65,2.6],[7.72,3.1],[7.8,3.8],[7.85,4.3],[7.92,3.2],[8.0,2.3],[8.07,1.8],[8.15,1.6],[8.22,2.1],[8.3,1.7],[8.37,1.3],[8.45,1.1],[8.52,1.5],[8.6,1.2],[8.67,1.4],[8.74,1.2]];
const compact100Lower: P[] = [[3.56,-0.3],[3.63,-0.5],[3.7,-0.4],[3.78,-0.45],[3.85,-0.25],[3.92,-0.5],[4.0,-0.35],[4.08,-0.5],[4.15,0.1],[4.2,-0.35],[4.27,-0.6],[4.35,-0.3],[4.42,-0.5],[4.5,-0.9],[4.57,-0.4],[4.65,-0.6],[4.72,-0.3],[4.8,-0.8],[4.88,-1.3],[4.95,-1.9],[5.03,-2.5],[5.1,-2.1],[5.18,-2.9],[5.25,-2.4],[5.33,-2.6],[5.4,-3.2],[5.48,-2.9],[5.55,-3.4],[5.63,-3.75],[5.7,-2.7],[5.78,-3.0],[5.85,-2.5],[5.93,-2.8],[6.0,-2.2],[6.08,-2.4],[6.15,-1.8],[6.23,-1.5],[6.3,-1.7],[6.38,-1.1],[6.45,-0.7],[6.53,-0.3],[6.6,-0.6],[6.68,0.0],[6.75,0.5],[6.83,0.1],[6.9,0.7],[6.98,0.3],[7.05,1.0],[7.12,1.4],[7.2,0.6],[7.28,0.4],[7.35,0.9],[7.43,0.6],[7.5,1.5],[7.57,2.1],[7.65,1.1],[7.72,1.5],[7.8,2.2],[7.85,2.7],[7.92,1.5],[8.0,0.6],[8.07,0.3],[8.15,0.1],[8.22,0.6],[8.3,0.2],[8.37,-0.1],[8.45,-0.3],[8.52,0.2],[8.6,-0.2],[8.67,0.1],[8.74,-0.2]];

// ---------- panel configuration ----------
type Panel = {
  title: string; row: number; col: number;
  blue: P[]; upper: P[]; lower: P[];
  xTicks: number[]; yTicks: number[];
  xFmt: string; yFmt: string; smooth: boolean;
};

const panels: Panel[] = [
  { title: featureTitles[0], row: 0, col: 0, blue: radius50Blue, upper: radius50Upper, lower: radius50Lower, xTicks: xTicksRadius, yTicks: [-6, -4, -2, 0, 2, 4, 6], xFmt: "d", yFmt: "d", smooth: true },
  { title: featureTitles[1], row: 0, col: 1, blue: texture50Blue, upper: texture50Upper, lower: texture50Lower, xTicks: xTicksTexture, yTicks: [-3, -2, -1, 0, 1, 2, 3, 4], xFmt: "d", yFmt: "d", smooth: true },
  { title: featureTitles[2], row: 0, col: 2, blue: perimeter50Blue, upper: perimeter50Upper, lower: perimeter50Lower, xTicks: xTicksPerimeter, yTicks: [-3, -2, -1, 0, 1, 2, 3, 4], xFmt: "d", yFmt: "d", smooth: true },
  { title: featureTitles[3], row: 0, col: 3, blue: area50Blue, upper: area50Upper, lower: area50Lower, xTicks: xTicksArea, yTicks: [-0.5, 0, 0.5, 1, 1.5, 2, 2.5, 3, 3.5], xFmt: ".1f", yFmt: ".1f", smooth: true },
  { title: featureTitles[4], row: 0, col: 4, blue: smooth50Blue, upper: smooth50Upper, lower: smooth50Lower, xTicks: xTicksSmooth, yTicks: [-5, -2.5, 0, 2.5, 5, 7.5, 10], xFmt: ".1f", yFmt: ".1f", smooth: true },
  { title: featureTitles[5], row: 0, col: 5, blue: compact50Blue, upper: compact50Upper, lower: compact50Lower, xTicks: xTicksCompact, yTicks: [-5, -2.5, 0, 2.5, 5, 7.5, 10], xFmt: "d", yFmt: ".1f", smooth: true },
  { title: featureTitles[0], row: 1, col: 0, blue: radius100Blue, upper: radius100Upper, lower: radius100Lower, xTicks: xTicksRadius, yTicks: [-2, 0, 2, 4, 6], xFmt: "d", yFmt: "d", smooth: false },
  { title: featureTitles[1], row: 1, col: 1, blue: texture100Blue, upper: texture100Upper, lower: texture100Lower, xTicks: xTicksTexture, yTicks: [-1, 0, 1, 2, 3], xFmt: "d", yFmt: "d", smooth: false },
  { title: featureTitles[2], row: 1, col: 2, blue: perimeter100Blue, upper: perimeter100Upper, lower: perimeter100Lower, xTicks: xTicksPerimeter, yTicks: [-2, -1, 0, 1, 2, 3, 4, 5], xFmt: "d", yFmt: "d", smooth: false },
  { title: featureTitles[3], row: 1, col: 3, blue: area100Blue, upper: area100Upper, lower: area100Lower, xTicks: xTicksArea, yTicks: [0, 1, 2, 3, 4, 5], xFmt: ".1f", yFmt: "d", smooth: false },
  { title: featureTitles[4], row: 1, col: 4, blue: smooth100Blue, upper: smooth100Upper, lower: smooth100Lower, xTicks: xTicksSmooth, yTicks: [-4, -2, 0, 2, 4], xFmt: ".1f", yFmt: "d", smooth: false },
  { title: featureTitles[5], row: 1, col: 5, blue: compact100Blue, upper: compact100Upper, lower: compact100Lower, xTicks: xTicksCompact, yTicks: [-4, -2, 0, 2, 4], xFmt: "d", yFmt: "d", smooth: false },
];

// ---------- layout ----------
const W = 1134, H = 798;
const BG = "#333a48";
const AX_LEFT0 = 106.7, AX_STEP = 160, AX_W = 132.5, AX_H = 258.5;
const ROW_TOP = [98.3, 511];
const HEADER_Y = [36, 448];
const TEXT_DARK = "#1c1c1c";

const fmt = (f: string) => {
  const g = d3.format(f);
  return (v: number) => g(v).replace("-", "\u2212");
};

function PanelView({ p }: { p: Panel }) {
  const left = AX_LEFT0 + p.col * AX_STEP;
  const top = ROW_TOP[p.row];
  const all = [...p.blue, ...p.upper, ...p.lower];
  const [x0, x1] = d3.extent(all, (d) => d[0]) as [number, number];
  const [y0, y1] = d3.extent(all, (d) => d[1]) as [number, number];
  const xm = (x1 - x0) * 0.05, ym = (y1 - y0) * 0.05;
  const x = d3.scaleLinear().domain([x0 - xm, x1 + xm]).range([left, left + AX_W]);
  const y = d3.scaleLinear().domain([y0 - ym, y1 + ym]).range([top + AX_H, top]);
  const curve = p.smooth ? d3.curveCatmullRom.alpha(0.5) : d3.curveLinear;
  const line = d3.line<P>().x((d) => x(d[0])).y((d) => y(d[1])).curve(curve);
  const fx = fmt(p.xFmt), fy = fmt(p.yFmt);
  const xd = x.domain(), yd = y.domain();
  const ex = (xd[1] - xd[0]) * 0.004, ey = (yd[1] - yd[0]) * 0.004;
  const xt = p.xTicks.filter((t) => t >= xd[0] - ex && t <= xd[1] + ex);
  const yt = p.yTicks.filter((t) => t >= yd[0] - ey && t <= yd[1] + ey);
  const clipId = `clip-${p.row}-${p.col}`;
  return (
    <g>
      <defs>
        <clipPath id={clipId}>
          <rect x={left} y={top} width={AX_W} height={AX_H} />
        </clipPath>
      </defs>
      <rect x={left} y={top} width={AX_W} height={AX_H} fill="#ffffff" stroke="#2a2a2a" strokeWidth={0.5} />
      <text x={left + AX_W / 2} y={top - 4.5} textAnchor="middle" fontFamily="DejaVu Sans, sans-serif" fontSize={7.6} fill={TEXT_DARK}>{p.title}</text>
      {xt.map((t) => (
        <g key={`x${t}`}>
          <line x1={x(t)} x2={x(t)} y1={top + AX_H} y2={top + AX_H + 2.5} stroke={TEXT_DARK} strokeWidth={0.6} />
          <text x={x(t)} y={top + AX_H + 9} textAnchor="middle" fontFamily="DejaVu Sans, sans-serif" fontSize={6.2} fill={TEXT_DARK}>{fx(t)}</text>
        </g>
      ))}
      {yt.map((t) => (
        <g key={`y${t}`}>
          <line x1={left - 2.5} x2={left} y1={y(t)} y2={y(t)} stroke={TEXT_DARK} strokeWidth={0.6} />
          <text x={left - 4} y={y(t) + 2.2} textAnchor="end" fontFamily="DejaVu Sans, sans-serif" fontSize={6.2} fill={TEXT_DARK}>{fy(t)}</text>
        </g>
      ))}
      <g clipPath={`url(#${clipId})`}>
        <path d={line(p.blue) ?? ""} fill="none" stroke="#1f77b4" strokeWidth={1} strokeLinejoin="round" />
        <path d={line(p.upper) ?? ""} fill="none" stroke="#ff0000" strokeWidth={0.9} strokeDasharray="2.6,1.2" opacity={0.9} />
        <path d={line(p.lower) ?? ""} fill="none" stroke="#ff0000" strokeWidth={0.9} strokeDasharray="2.6,1.2" opacity={0.9} />
      </g>
    </g>
  );
}

export default function App() {
  return (
    <svg width={W} height={H} viewBox={`0 0 ${W} ${H}`} style={{ position: "absolute", left: 0, top: 0, display: "block" }}>
      <rect x={0} y={0} width={W} height={H} fill={BG} />
      <text x={93} y={HEADER_Y[0]} fontFamily="Liberation Mono, monospace" fontSize={13} fill="#cfd5e8" textLength={425} lengthAdjust="spacingAndGlyphs">{header50}</text>
      <text x={93} y={HEADER_Y[1]} fontFamily="Liberation Mono, monospace" fontSize={13} fill="#cfd5e8" textLength={515} lengthAdjust="spacingAndGlyphs">{header100}</text>
      {panels.map((p) => (
        <PanelView key={`${p.row}-${p.col}`} p={p} />
      ))}
    </svg>
  );
}
